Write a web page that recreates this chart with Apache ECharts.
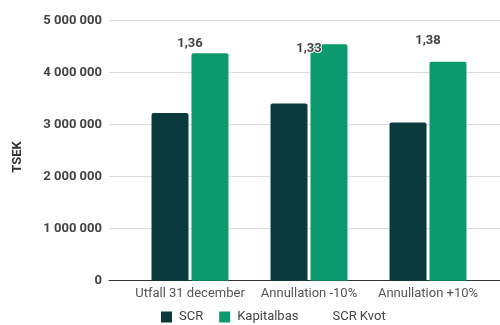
<!DOCTYPE html>
<html>
<head>
<meta charset="utf-8">
<script src="https://cdn.jsdelivr.net/npm/echarts@6/dist/echarts.min.js"></script>
<style>
html,body{margin:0;padding:0;background:#fff;}
#c{width:500px;height:325px;}
</style>
</head>
<body>
<div id="c"></div>
<script>
const categories = ['Utfall 31 december', 'Annullation -10%', 'Annullation +10%'];
const scr = [3225000, 3410000, 3040000];
const kapitalbas = [4375000, 4545000, 4210000];
const kvot = [1.36, 1.33, 1.38];
const yAxisName = 'TSEK';
const seriesNames = ['SCR', 'Kapitalbas', 'SCR Kvot'];

const chart = echarts.init(document.getElementById('c'), null, {renderer: 'canvas'});
const FONT = 'Roboto';
function fmt(v) {
  return String(Math.round(v)).replace(/\B(?=(\d{3})+(?!\d))/g, ' ');
}
const gridTop = 20.7, gridBottom = 44.3;
chart.setOption({
  animation: false,
  textStyle: {fontFamily: FONT},
  grid: [
    {left: 109, right: 0, top: gridTop, bottom: gridBottom},
    {left: 130.5, right: 12.5, top: gridTop, bottom: gridBottom}
  ],
  graphic: [{
    type: 'text',
    x: 18, y: 157,
    rotation: Math.PI / 2,
    style: {text: yAxisName, fontFamily: FONT, fontSize: 13, fontWeight: 'bold', fill: '#333', align: 'center', verticalAlign: 'middle'}
  }],
  legend: {
    left: 161, top: 310.5, padding: 0,
    itemWidth: 11, itemHeight: 11, itemGap: 16,
    icon: 'rect',
    textStyle: {fontFamily: FONT, fontSize: 13, color: '#444', padding: [0, 0, 0, 2]},
    data: [
      {name: seriesNames[0]},
      {name: seriesNames[1]},
      {name: seriesNames[2], itemStyle: {color: 'transparent', opacity: 0}}
    ]
  },
  xAxis: [
    {type: 'category', gridIndex: 0, data: categories,
     axisLine: {show: true, lineStyle: {color: '#333', width: 1}},
     axisTick: {show: false}, axisLabel: {show: false}, splitLine: {show: false}},
    {type: 'category', gridIndex: 1, data: categories,
     axisLine: {show: false}, axisTick: {show: false},
     axisLabel: {interval: 0, hideOverlap: false, fontFamily: FONT, fontSize: 13, color: '#555', margin: 7}}
  ],
  yAxis: [
    {type: 'value', gridIndex: 0, min: 0, max: 5000000, interval: 1000000,
     axisLine: {show: false}, axisTick: {show: false},
     splitLine: {lineStyle: {color: '#dcdcdc', width: 1}},
     axisLabel: {fontFamily: FONT, fontSize: 13, fontWeight: 'bold', color: '#444', margin: 7, formatter: fmt}},
    {type: 'value', gridIndex: 1, min: 0, max: 5000000, show: false},
    {type: 'value', gridIndex: 1, min: 0, max: 1.6, show: false}
  ],
  series: [
    {name: seriesNames[0], type: 'bar', xAxisIndex: 1, yAxisIndex: 1, data: scr,
     barWidth: 37, barGap: '8%',
     itemStyle: {color: '#0a3a3d', borderRadius: [2, 2, 0, 0]}},
    {name: seriesNames[1], type: 'bar', xAxisIndex: 1, yAxisIndex: 1, data: kapitalbas,
     barWidth: 37, barGap: '8%',
     itemStyle: {color: '#0a9a6e', borderRadius: [2, 2, 0, 0]}},
    {name: seriesNames[2], type: 'line', xAxisIndex: 1, yAxisIndex: 2, data: kvot,
     z: 10,
     symbol: 'circle', symbolSize: 0.1, showSymbol: true,
     lineStyle: {opacity: 0, width: 0},
     itemStyle: {color: 'transparent'},
     label: {show: true, position: 'top', distance: 9,
       fontFamily: FONT, fontSize: 13, fontWeight: 'bold', color: '#444',
       textBorderColor: '#fff', textBorderWidth: 2,
       formatter: p => p.value.toFixed(2).replace('.', ',')}}
  ]
});
</script>
</body>
</html>
